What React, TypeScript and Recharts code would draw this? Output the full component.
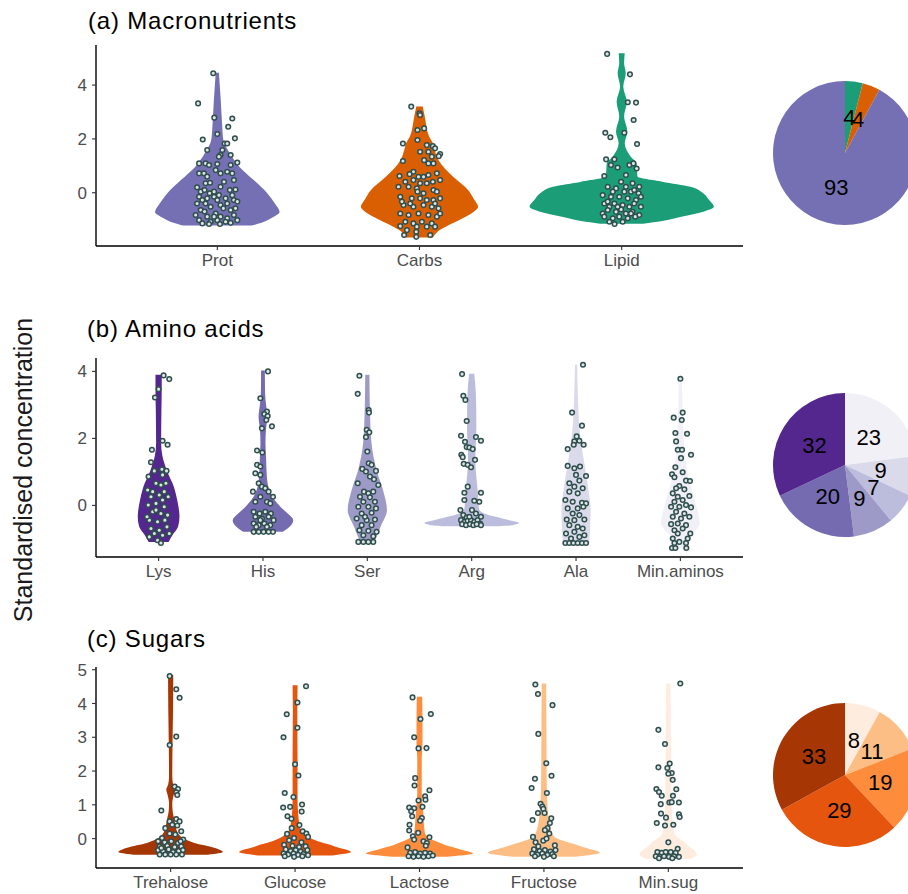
import { ComposedChart, Area, Scatter, XAxis, YAxis, PieChart, Pie, Cell } from "recharts"

type Pair = [number, number]

const FONT = "Liberation Sans, Arial, sans-serif"

// (a) macronutrients
const macroNames = ["Prot", "Carbs", "Lipid"]
const macroColors = ["#7570b3", "#d95f02", "#1b9e77"]
const macroShares = [93, 4, 4]

// violin outlines: [value, half width in category units]
const protShape: Pair[] = [[-1.22,0.17],[-1.1,0.225],[-0.95,0.266],[-0.72,0.308],[-0.4,0.285],[0,0.245],[0.47,0.18],[0.96,0.11],[1.47,0.062],[1.96,0.03],[2.5,0.024],[3.45,0.017],[4.0,0.012],[4.46,0.008]]
const carbsShape: Pair[] = [[-1.66,0.066],[-1.39,0.1],[-1.01,0.197],[-0.75,0.26],[-0.52,0.29],[-0.25,0.27],[0.1,0.24],[0.6,0.165],[1.21,0.094],[1.6,0.075],[1.85,0.066],[2.08,0.048],[2.83,0.026],[3.2,0.016]]
const lipidShape: Pair[] = [[-1.15,0.107],[-1.05,0.2],[-0.9,0.29],[-0.75,0.38],[-0.52,0.456],[-0.25,0.43],[0,0.4],[0.22,0.34],[0.41,0.2],[0.6,0.078],[1.09,0.074],[1.34,0.045],[1.84,0.015],[2.27,0.028],[2.83,0.012],[3.38,0.025],[3.94,0.008],[4.44,0.02],[4.81,0.012],[5.18,0.015]]

// jittered observations: [x offset, value]
const protPts: Pair[] = [[-0.02,4.44],[-0.095,3.32],[-0.015,2.79],[0.074,2.76],[0.054,2.45],[0,2.18],[-0.072,1.98],[0.087,2.02],[0.036,1.83],[0.049,1.83],[-0.05,1.59],[0.025,1.59],[0.016,1.4],[0.066,1.4],[0.099,1.12],[0.008,1.34],[-0.09,1.09],[-0.058,1.09],[-0.041,1.03],[0,1.07],[0.066,1.03],[-0.008,0.84],[-0.09,0.72],[-0.066,0.72],[-0.05,0.6],[0.016,0.72],[0.049,0.78],[0.074,0.72],[0.082,0.47],[0.033,0.41],[-0.058,0.35],[-0.036,0.37],[-0.1,0.2],[-0.082,0.04],[-0.063,0.1],[-0.038,-0.02],[0.016,0.22],[0.062,0.1],[0.09,0.12],[-0.09,-0.15],[-0.016,-0.15],[0,-0.27],[0.041,-0.21],[0.082,-0.27],[0.099,-0.33],[-0.1,-0.4],[-0.058,-0.4],[-0.033,-0.52],[0.016,-0.46],[0.03,-0.58],[-0.082,-0.64],[-0.008,-0.77],[0.066,-0.64],[0.09,-0.58],[-0.107,-0.83],[-0.05,-0.89],[0.016,-0.89],[0.049,-0.95],[0.082,-0.83],[-0.09,-1.02],[-0.033,-1.08],[0,-1.02],[0.041,-1.08],[-0.074,-1.14],[-0.041,-1.16],[0.013,-1.16],[0.066,-1.12],[0.099,-1.02],[-0.016,-0.89],[-0.063,-0.7],[0.049,-0.4],[-0.016,0.04],[0.008,-0.09],[0.074,-0.09],[-0.074,-0.27],[-0.05,-0.21]]
const carbsPts: Pair[] = [[-0.041,3.2],[0,2.95],[0.003,2.89],[-0.01,2.33],[0.023,2.39],[-0.082,1.83],[-0.01,1.96],[0.036,1.77],[0.066,1.73],[0.077,1.65],[0.102,1.44],[0.095,1.36],[-0.082,1.18],[0.003,1.52],[0.044,1.52],[0.061,1.34],[0.023,1.21],[0.044,1.09],[0.069,1.09],[-0.03,0.78],[-0.049,0.69],[-0.099,0.62],[-0.005,0.59],[0.02,0.59],[0.044,0.66],[0.086,0.72],[-0.07,0.41],[-0.03,0.47],[0.003,0.35],[0.036,0.35],[0.066,0.41],[0.102,0.47],[-0.104,0.22],[-0.054,0.22],[-0.013,0.16],[0.02,-0.02],[0.069,0.1],[0.086,0.04],[-0.095,-0.15],[-0.038,-0.21],[0.003,-0.21],[0.036,-0.27],[0.069,-0.27],[0.102,-0.21],[-0.079,-0.46],[-0.03,-0.52],[0.02,-0.46],[0.061,-0.52],[0.094,-0.58],[-0.095,-0.77],[-0.054,-0.83],[-0.005,-0.77],[0.044,-0.83],[0.086,-0.89],[0.102,-0.77],[-0.07,-1.08],[-0.03,-1.14],[0.012,-1.08],[0.061,-1.14],[-0.095,-1.24],[-0.013,-1.26],[0.036,-1.26],[-0.062,-1.39],[-0.016,-1.45],[-0.076,-1.57],[-0.016,-1.64],[0.053,-1.57],[0.077,-1.26],[-0.046,-0.4],[0.077,-0.4],[-0.01,0.04],[-0.087,-0.33]]
const lipidPts: Pair[] = [[-0.072,5.16],[0.041,4.4],[0.03,3.36],[0.071,3.35],[0.059,2.7],[-0.081,2.23],[-0.056,2.06],[0.013,2.23],[0.076,1.81],[-0.077,1.24],[-0.036,1.24],[-0.053,1.03],[-0.02,0.94],[0.038,1.03],[0.058,1.09],[0.074,0.9],[-0.086,0.62],[0.021,0.66],[-0.003,0.41],[0.054,0.35],[0.087,0.22],[-0.069,0.22],[-0.028,0.16],[0.013,0.04],[0.046,0.04],[0.084,-0.02],[-0.094,-0.09],[-0.053,-0.15],[-0.012,-0.15],[0.03,-0.21],[0.071,-0.27],[0.095,-0.15],[-0.086,-0.4],[-0.061,-0.52],[-0.036,-0.4],[0.005,-0.46],[0.038,-0.52],[0.062,-0.4],[0.095,-0.52],[-0.094,-0.77],[-0.069,-0.64],[-0.028,-0.71],[-0.003,-0.62],[0.021,-0.77],[0.054,-0.71],[0.087,-0.83],[-0.086,-0.89],[-0.044,-0.95],[-0.012,-0.89],[0.03,-0.95],[0.067,-0.89],[-0.061,-1.08],[-0.035,-1.16],[0.005,-1.08],[0.046,-0.77],[-0.069,-0.33],[-0.044,0.04],[0.021,0.22],[0.062,0.1],[-0.02,-0.52]]

// (b) amino acids
const aminoNames = ["Lys", "His", "Ser", "Arg", "Ala", "Min.aminos"]
const aminoColors = ["#54278f", "#756bb1", "#9e9ac8", "#bcbddc", "#dadaeb", "#f2f0f7"]
const aminoShares = [32, 20, 9, 7, 9, 23]

const lysShape: Pair[] = [[-1.09,0.096],[-0.89,0.132],[-0.64,0.186],[-0.34,0.2],[0.16,0.178],[0.56,0.146],[1.06,0.077],[1.5,0.035],[1.86,0.024],[2.85,0.027],[3.5,0.03],[3.9,0.03]]
const hisShape: Pair[] = [[-0.79,0.19],[-0.64,0.255],[-0.44,0.29],[-0.25,0.24],[-0.04,0.167],[0.36,0.072],[0.86,0.037],[1.4,0.03],[1.86,0.024],[2.3,0.03],[2.65,0.042],[3.0,0.03],[3.35,0.02],[4.03,0.018]]
const serShape: Pair[] = [[-1.12,0.056],[-0.94,0.088],[-0.64,0.127],[-0.14,0.188],[0.46,0.15],[1.06,0.088],[1.86,0.04],[2.85,0.025],[3.9,0.02]]
const argShape: Pair[] = [[-0.62,0.26],[-0.59,0.39],[-0.52,0.455],[-0.44,0.36],[-0.34,0.23],[-0.24,0.12],[-0.1,0.07],[0.36,0.06],[1.36,0.035],[2.35,0.045],[3.35,0.04],[3.93,0.024]]
const alaShape: Pair[] = [[-1.14,0.127],[-0.64,0.135],[-0.14,0.14],[0.36,0.124],[1.06,0.09],[1.56,0.064],[2.35,0.032],[3.35,0.017],[4.2,0.01]]
const minAminoShape: Pair[] = [[-1.29,0.04],[-0.94,0.088],[-0.54,0.186],[-0.04,0.155],[0.56,0.1],[1.36,0.048],[2.35,0.027],[3.75,0.015]]

const lysPts: Pair[] = [[0.048,3.88],[0.102,3.77],[0,3.47],[-0.035,3.22],[0.038,1.93],[0.086,1.81],[-0.064,1.66],[-0.073,1.29],[-0.041,1.03],[0.032,1.08],[0.076,1.03],[0.038,0.91],[-0.096,0.86],[-0.025,0.66],[0.022,0.61],[0.07,0.66],[-0.105,0.46],[-0.057,0.41],[0.054,0.41],[-0.073,0.26],[0.006,0.31],[0.092,0.26],[-0.099,0.01],[-0.025,0.06],[0.054,-0.04],[-0.057,-0.19],[0.022,-0.24],[0.086,-0.29],[-0.089,-0.44],[-0.01,-0.49],[0.06,-0.44],[-0.073,-0.69],[0.006,-0.74],[0.08,-0.64],[-0.041,-0.84],[0.038,-0.89],[-0.089,-0.94],[-0.01,-1.04],[0.022,-1.12],[0.102,-0.84],[-0.025,-0.14],[-0.111,-0.34],[0.038,0.16]]
const hisPts: Pair[] = [[0.048,4.0],[-0.025,3.2],[0.038,2.8],[0.013,2.73],[0.045,2.67],[0.032,2.55],[0.086,2.36],[-0.01,2.3],[-0.057,1.64],[-0.006,1.58],[-0.057,1.21],[-0.025,1.16],[-0.073,0.96],[-0.025,0.91],[-0.041,0.66],[-0.01,0.56],[0.022,0.51],[-0.096,0.41],[0.054,0.41],[0.096,0.26],[-0.025,0.26],[-0.073,0.11],[0.038,0.11],[0.07,0.06],[-0.089,-0.19],[-0.032,-0.24],[0.022,-0.19],[0.076,-0.24],[-0.073,-0.34],[-0.01,-0.39],[0.054,-0.34],[-0.089,-0.54],[-0.041,-0.59],[0.013,-0.54],[0.07,-0.59],[-0.064,-0.64],[0.038,-0.64],[-0.089,-0.79],[-0.041,-0.79],[0.006,-0.79],[0.054,-0.79],[0.096,-0.79],[-0.025,-0.44],[0.102,-0.44]]
const serPts: Pair[] = [[-0.076,3.87],[-0.092,3.33],[0.013,2.85],[0.016,2.77],[-0.006,2.26],[0.019,2.18],[-0.013,2.04],[0,1.61],[0.013,1.26],[0.041,1.21],[-0.048,1.09],[-0.013,1.01],[0.083,1.03],[0.025,0.86],[0.064,0.78],[-0.092,0.66],[0.105,0.61],[-0.032,0.41],[0.01,0.36],[0.057,0.41],[-0.07,0.26],[0.025,0.24],[-0.038,0.11],[0.073,0.11],[-0.086,-0.04],[0.01,-0.04],[0.083,-0.09],[-0.054,-0.24],[0.041,-0.22],[-0.102,-0.39],[-0.006,-0.44],[0.073,-0.42],[-0.054,-0.59],[0.041,-0.59],[-0.076,-0.74],[0.01,-0.76],[0.089,-0.79],[-0.038,-0.89],[0.057,-0.92],[-0.086,-1.09],[-0.038,-1.09],[0.01,-1.09],[0.057,-1.09],[-0.022,-0.34]]
const argPts: Pair[] = [[-0.092,3.92],[-0.08,3.27],[-0.06,3.15],[-0.048,2.52],[-0.102,2.08],[0.041,2.04],[0.089,1.93],[-0.064,1.9],[-0.048,1.74],[-0.022,1.73],[0.01,1.68],[-0.099,1.51],[-0.086,1.44],[0.032,1.36],[-0.076,1.24],[-0.038,1.21],[-0.006,1.14],[-0.038,0.56],[-0.07,0.38],[0.089,0.38],[-0.07,0.16],[0.025,0.14],[0.073,0.11],[-0.108,-0.14],[0.003,-0.14],[-0.08,-0.29],[0.041,-0.24],[-0.048,-0.36],[-0.102,-0.44],[-0.07,-0.49],[-0.038,-0.46],[-0.006,-0.44],[0.025,-0.49],[0.057,-0.44],[0.08,-0.54],[-0.092,-0.56],[-0.054,-0.59],[-0.016,-0.56],[0.016,-0.59],[0.048,-0.56],[0.089,-0.59],[-0.022,-0.34],[0.089,-0.34]]
const alaPts: Pair[] = [[0.067,4.2],[-0.038,2.77],[0.057,2.38],[0.006,2.06],[-0.016,1.91],[0.032,1.93],[-0.08,1.68],[-0.022,1.81],[0.073,1.81],[-0.08,1.18],[-0.016,1.11],[0.038,1.16],[0,0.91],[0.096,0.88],[0.032,0.74],[-0.064,0.66],[-0.016,0.56],[0.064,0.51],[-0.064,0.41],[0.016,0.36],[-0.102,0.16],[-0.032,0.11],[0.057,0.08],[0.096,0.06],[-0.08,-0.09],[0.016,-0.09],[0.07,-0.04],[-0.032,-0.24],[0.032,-0.29],[-0.089,-0.42],[-0.016,-0.44],[0.08,-0.42],[-0.064,-0.59],[0.016,-0.64],[0.064,-0.69],[-0.096,-0.84],[-0.016,-0.79],[0.08,-0.89],[-0.048,-0.99],[-0.102,-1.12],[-0.064,-1.12],[-0.025,-1.12],[0.016,-1.12],[0.057,-1.12],[0.096,-1.12],[0.032,-0.94]]
const minAminoPts: Pair[] = [[0,3.78],[0.022,2.77],[-0.064,2.62],[0.013,2.55],[-0.048,2.16],[0.064,2.14],[-0.041,1.91],[-0.025,1.66],[0.016,1.66],[0.102,1.51],[0.006,1.41],[-0.048,1.14],[0.022,0.99],[-0.08,0.93],[-0.057,0.84],[0.054,0.74],[0.092,0.73],[-0.01,0.58],[-0.041,0.51],[0.038,0.48],[-0.073,0.36],[0.086,0.28],[-0.025,0.26],[-0.057,0.11],[0.022,0.16],[0.054,0.01],[-0.089,-0.04],[-0.01,-0.04],[0.102,-0.06],[-0.041,-0.19],[0.038,-0.24],[-0.073,-0.34],[0.006,-0.39],[0.086,-0.34],[-0.089,-0.56],[-0.025,-0.54],[0.054,-0.59],[-0.057,-0.74],[0.022,-0.69],[0.095,-0.84],[-0.025,-0.84],[-0.073,-0.99],[0.07,-0.99],[-0.01,-1.09],[-0.057,-1.12],[0.054,-1.12],[-0.08,-1.27],[-0.048,-1.27],[0.057,-1.27]]

// (c) sugars
const sugarNames = ["Trehalose", "Glucose", "Lactose", "Fructose", "Min.sug"]
const sugarColors = ["#a63603", "#e6550d", "#fd8d3c", "#fdbe85", "#feedde"]
const sugarShares = [33, 29, 19, 11, 8]

const trehaloseShape: Pair[] = [[-0.48,0.3],[-0.4,0.42],[-0.27,0.35],[-0.13,0.19],[0.17,0.057],[0.56,0.03],[0.85,0.015],[1.05,0.013],[1.3,0.025],[1.45,0.035],[1.6,0.02],[1.84,0.013],[2.82,0.015],[3.8,0.019],[4.84,0.021]]
const glucoseShape: Pair[] = [[-0.5,0.3],[-0.4,0.45],[-0.23,0.32],[-0.03,0.147],[0.36,0.037],[1.15,0.02],[2.33,0.02],[3.8,0.018],[4.54,0.02]]
const lactoseShape: Pair[] = [[-0.54,0.2],[-0.44,0.43],[-0.32,0.33],[-0.18,0.2],[0.17,0.043],[0.76,0.03],[1.35,0.018],[2.33,0.018],[2.82,0.024],[3.31,0.024],[4.2,0.022]]
const fructoseShape: Pair[] = [[-0.54,0.25],[-0.42,0.45],[-0.23,0.3],[0.07,0.08],[0.56,0.04],[1.15,0.026],[1.84,0.022],[3.31,0.02],[4.59,0.018]]
const minSugShape: Pair[] = [[-0.6,0.18],[-0.47,0.23],[-0.18,0.15],[0.17,0.047],[0.86,0.028],[2.33,0.022],[4.59,0.018]]

const trehalosePts: Pair[] = [[-0.008,4.81],[0.045,4.42],[0.072,4.17],[0.045,3.02],[-0.008,2.77],[0.032,1.54],[0.059,1.47],[0.045,1.37],[0.053,1.29],[-0.075,0.83],[0.045,0.58],[-0.008,0.51],[0.072,0.51],[0.013,0.41],[0.053,0.39],[-0.043,0.31],[0.085,0.22],[-0.008,0.15],[0.037,0.12],[-0.069,0.02],[0.101,-0.03],[-0.101,-0.08],[-0.048,-0.11],[0.005,-0.08],[0.059,-0.13],[-0.088,-0.23],[-0.027,-0.21],[0.032,-0.25],[0.085,-0.23],[-0.101,-0.34],[-0.061,-0.37],[-0.016,-0.32],[0.019,-0.4],[0.064,-0.37],[0.099,-0.34],[-0.088,-0.47],[-0.043,-0.47],[0,-0.47],[0.045,-0.47],[0.091,-0.47],[-0.075,-0.28],[0.08,-0.08]]
const glucosePts: Pair[] = [[0.088,4.51],[0.019,4.03],[-0.067,3.68],[0.019,3.28],[-0.093,3.0],[0,2.2],[0.027,1.87],[-0.083,1.35],[-0.013,1.23],[-0.096,0.92],[-0.04,0.94],[0.056,1.01],[0.053,0.8],[-0.061,0.66],[-0.029,0.59],[0.035,0.4],[-0.027,0.31],[0.061,0.22],[0.091,0.15],[0.104,0.05],[-0.064,0.14],[-0.008,0.02],[-0.048,-0.05],[0.051,-0.11],[-0.088,-0.18],[-0.021,-0.21],[0.032,-0.25],[0.085,-0.23],[-0.075,-0.32],[-0.035,-0.37],[0.005,-0.34],[0.045,-0.38],[0.099,-0.34],[-0.093,-0.44],[-0.056,-0.47],[-0.013,-0.44],[0.024,-0.48],[0.067,-0.46],[0.104,-0.49],[-0.083,-0.52],[-0.008,-0.54],[0.059,-0.52]]
const lactosePts: Pair[] = [[-0.056,4.18],[0.091,3.69],[0.008,3.54],[-0.043,3.0],[-0.008,2.67],[0.056,2.68],[-0.035,1.79],[-0.04,1.57],[0.08,1.43],[0.045,1.25],[-0.008,1.13],[0.048,1.15],[-0.083,0.92],[-0.043,0.9],[0.024,0.94],[-0.067,0.81],[-0.059,0.66],[0.019,0.61],[0.005,0.53],[-0.08,0.41],[-0.083,0.24],[-0.011,0.17],[-0.053,0.07],[0.08,0.04],[-0.043,-0.03],[0.032,-0.08],[0.059,-0.13],[0.051,-0.21],[-0.096,-0.26],[-0.075,-0.42],[-0.035,-0.4],[0.005,-0.44],[0.045,-0.42],[0.085,-0.44],[-0.088,-0.52],[-0.048,-0.54],[-0.008,-0.52],[0.032,-0.54],[0.072,-0.52],[0.107,-0.5]]
const fructosePts: Pair[] = [[-0.069,4.56],[-0.048,4.28],[0.069,3.95],[-0.045,3.1],[0.019,2.23],[0.061,1.86],[-0.072,1.77],[-0.099,1.5],[0.024,1.35],[-0.027,1.03],[-0.013,0.95],[-0.005,0.88],[-0.048,0.76],[0.005,0.76],[0.059,0.6],[-0.091,0.55],[0.048,0.46],[0.029,0.31],[0.008,0.25],[0.043,0.15],[-0.088,0.05],[-0.005,-0.06],[0.021,0],[0.088,-0.2],[-0.067,-0.11],[-0.045,-0.23],[-0.08,-0.32],[-0.035,-0.37],[0.008,-0.34],[0.053,-0.38],[0.093,-0.34],[-0.093,-0.44],[-0.053,-0.47],[-0.013,-0.44],[0.027,-0.48],[0.067,-0.46],[-0.072,-0.52],[0,-0.54],[0.08,-0.52]]
const minSugPts: Pair[] = [[0.096,4.59],[-0.08,3.22],[-0.027,2.8],[-0.08,2.11],[0.011,2.22],[-0.008,2.09],[0.027,1.94],[0,1.92],[0.035,1.74],[-0.096,1.47],[-0.075,1.38],[0.064,1.46],[-0.053,1.27],[0.037,1.27],[0.008,1.07],[0.027,1.08],[0.085,1.07],[-0.061,1.02],[-0.059,0.74],[0.085,0.72],[0.091,0.64],[-0.019,0.62],[-0.093,0.46],[-0.027,0.39],[0.04,0.41],[0,-0.11],[0.075,-0.3],[-0.088,-0.4],[-0.053,-0.42],[-0.021,-0.4],[0.019,-0.4],[0.059,-0.42],[-0.101,-0.52],[-0.069,-0.54],[-0.035,-0.52],[0.005,-0.54],[0.045,-0.52],[0.085,-0.54],[-0.075,-0.58],[0.032,-0.58]]

const axisTick = { fill: "#4d4d4d", fontSize: 17, fontFamily: FONT }

const renderDot = (p: any) => (
  <circle cx={p.cx} cy={p.cy} r={2.3} fill="#dfe5e4" stroke="#2f4f4f" strokeWidth={1.5} />
)

type PanelProps = {
  names: string[]
  colors: string[]
  shapes: Pair[][]
  pts: Pair[][]
  yDomain: [number, number]
  yTicks: number[]
  top: number
  height: number
  marginTop: number
  xAxisHeight: number
}

function ViolinPanel({ names, colors, shapes, pts, yDomain, yTicks, top, height, marginTop, xAxisHeight }: PanelProps) {
  const violins = shapes.map((s, i) => s.map(([y, w]) => ({ y, band: [i + 1 - w, i + 1 + w] })))
  const dots = pts.map((p, i) => p.map(([dx, y]) => ({ x: i + 1 + dx, y })))
  return (
    <div style={{ position: "absolute", left: 0, top }}>
      <ComposedChart layout="vertical" width={760} height={height}
        margin={{ top: marginTop, right: 17, bottom: 0, left: 0 }}>
        <XAxis type="number" dataKey="x" domain={[0.4, names.length + 0.6]}
          ticks={names.map((_, i) => i + 1)}
          tickFormatter={(v: number) => names[Math.round(v) - 1]}
          height={xAxisHeight} tickSize={4} tickMargin={4}
          axisLine={{ stroke: "#000", strokeWidth: 1.4 }}
          tickLine={{ stroke: "#333", strokeWidth: 1.1 }}
          tick={axisTick} />
        <YAxis type="number" dataKey="y" domain={yDomain} ticks={yTicks} width={96}
          reversed tickSize={4} tickMargin={5}
          axisLine={{ stroke: "#000", strokeWidth: 1.4 }}
          tickLine={{ stroke: "#333", strokeWidth: 1.1 }}
          tick={axisTick} />
        {violins.map((d, i) => (
          <Area key={"v" + i} data={d} dataKey="band" type="monotone" stroke="none"
            fill={colors[i]} fillOpacity={1} dot={false} activeDot={false}
            isAnimationActive={false} />
        ))}
        {dots.map((d, i) => (
          <Scatter key={"p" + i} data={d} shape={renderDot} isAnimationActive={false} />
        ))}
      </ComposedChart>
    </div>
  )
}

const RAD = Math.PI / 180
const renderPieLabel = (p: any) => {
  const r = p.outerRadius * 0.5
  const x = p.cx + r * Math.cos(-p.midAngle * RAD)
  const y = p.cy + r * Math.sin(-p.midAngle * RAD)
  return (
    <text x={x} y={y} textAnchor="middle" dominantBaseline="central"
      fontSize={22} fontFamily={FONT} fill="#000">{p.value}</text>
  )
}

function SharePie({ names, colors, shares, cy }: { names: string[]; colors: string[]; shares: number[]; cy: number }) {
  // slices run clockwise from 12 o'clock, last category first
  const data = names.map((n, i) => ({ name: n, value: shares[i], color: colors[i] })).reverse()
  return (
    <div style={{ position: "absolute", left: 755, top: cy - 90 }}>
      <PieChart width={180} height={180} margin={{ top: 0, right: 0, bottom: 0, left: 0 }}>
        <Pie data={data} dataKey="value" cx={90} cy={90} outerRadius={72}
          startAngle={90} endAngle={-270} stroke="none" label={renderPieLabel}
          labelLine={false} isAnimationActive={false}>
          {data.map((d) => <Cell key={d.name} fill={d.color} />)}
        </Pie>
      </PieChart>
    </div>
  )
}

export default function App() {
  return (
    <div style={{ position: "absolute", left: 0, top: 0, width: 908, height: 894, overflow: "hidden", background: "#fff" }}>
      <ViolinPanel names={macroNames} colors={macroColors}
        shapes={[protShape, carbsShape, lipidShape]} pts={[protPts, carbsPts, lipidPts]}
        yDomain={[-1.98, 5.49]} yTicks={[0, 2, 4]} top={0} height={276} marginTop={45} xAxisHeight={30} />
      <ViolinPanel names={aminoNames} colors={aminoColors}
        shapes={[lysShape, hisShape, serShape, argShape, alaShape, minAminoShape]}
        pts={[lysPts, hisPts, serPts, argPts, alaPts, minAminoPts]}
        yDomain={[-1.54, 4.4]} yTicks={[0, 2, 4]} top={300} height={287} marginTop={58} xAxisHeight={30} />
      <ViolinPanel names={sugarNames} colors={sugarColors}
        shapes={[trehaloseShape, glucoseShape, lactoseShape, fructoseShape, minSugShape]}
        pts={[trehalosePts, glucosePts, lactosePts, fructosePts, minSugPts]}
        yDomain={[-0.87, 5.08]} yTicks={[0, 1, 2, 3, 4, 5]} top={600} height={294} marginTop={67} xAxisHeight={26} />
      <SharePie names={macroNames} colors={macroColors} shares={macroShares} cy={153} />
      <SharePie names={aminoNames} colors={aminoColors} shares={aminoShares} cy={465} />
      <SharePie names={sugarNames} colors={sugarColors} shares={sugarShares} cy={775} />
      <svg width={908} height={894} style={{ position: "absolute", left: 0, top: 0, pointerEvents: "none" }}>
        <g fontFamily={FONT} fill="#000">
          <text x={88} y={28.5} fontSize={24} letterSpacing={0.8}>(a) Macronutrients</text>
          <text x={87} y={336.5} fontSize={24} letterSpacing={0.8}>(b) Amino acids</text>
          <text x={87} y={647} fontSize={24} letterSpacing={0.8}>(c) Sugars</text>
          <text transform="translate(23,470) rotate(-90)" textAnchor="middle" dominantBaseline="central"
            fontSize={25} fill="#1a1a1a">Standardised concentration</text>
        </g>
      </svg>
    </div>
  )
}
